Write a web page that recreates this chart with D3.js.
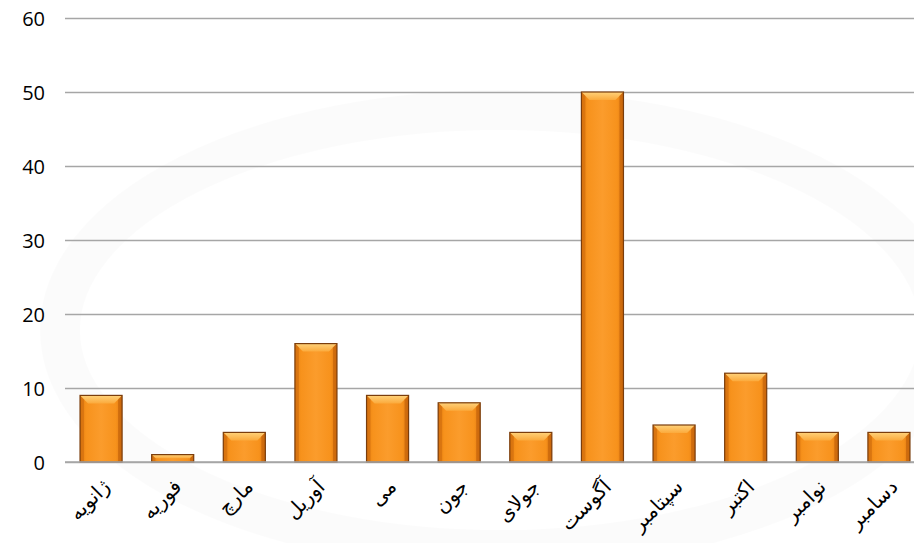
<!DOCTYPE html>
<html lang="fa">
<head>
  <meta charset="utf-8">
  <title>Monthly bars</title>
  <script src="https://d3js.org/d3.v7.min.js"></script>
  <style>
    body { margin: 0; background: #fff; }
    .ytick text { font-family: "Open Sans", sans-serif; font-size: 20px; fill: #000; }
    .xlab { font-family: "DejaVu Sans", sans-serif; font-size: 20px; fill: #000; }
  </style>
</head>
<body>
<div id="chart"></div>
<script>
  // months (category labels) and values
  const months = ["ژانویه", "فوریه", "مارچ", "آوریل", "می", "جون", "جولای", "آگوست", "سپتامبر", "اکتبر", "نوامبر", "دسامبر"];
  const counts = [9, 1, 4, 16, 9, 8, 4, 50, 5, 12, 4, 4];
  const yTicks = [0, 10, 20, 30, 40, 50, 60];

  const width = 914, height = 543;
  const margin = {top: 18, right: 0, bottom: 81, left: 65};

  const svg = d3.select("#chart").append("svg")
    .attr("width", width)
    .attr("height", height);

  const defs = svg.append("defs");
  // horizontal shading for the bar body
  const body = defs.append("linearGradient").attr("id", "barBody")
    .attr("x1", 0).attr("x2", 1).attr("y1", 0).attr("y2", 0);
  body.append("stop").attr("offset", "0%").attr("stop-color", "#e8800f");
  body.append("stop").attr("offset", "15%").attr("stop-color", "#f7921c");
  body.append("stop").attr("offset", "50%").attr("stop-color", "#fb9c2c");
  body.append("stop").attr("offset", "85%").attr("stop-color", "#f7921c");
  body.append("stop").attr("offset", "100%").attr("stop-color", "#e07812");

  const bevel = defs.append("linearGradient").attr("id", "barTop")
    .attr("x1", 0).attr("x2", 0).attr("y1", 0).attr("y2", 1);
  bevel.append("stop").attr("offset", "0%").attr("stop-color", "#ffd27a");
  bevel.append("stop").attr("offset", "100%").attr("stop-color", "#fbaa3c");

  // very faint watermark ring in the background
  svg.append("ellipse")
    .attr("cx", 500).attr("cy", 330).attr("rx", 440).attr("ry", 220)
    .attr("fill", "none").attr("stroke", "#000").attr("stroke-width", 40)
    .attr("opacity", 0.015);

  const x = d3.scaleBand()
    .domain(months)
    .range([margin.left, 925])
    .paddingInner(0.413)
    .paddingOuter(0.21);

  const y = d3.scaleLinear()
    .domain([0, 60])
    .range([height - margin.bottom, margin.top]);

  // grid lines with y labels
  const yAxis = svg.append("g")
    .attr("class", "ytick")
    .attr("transform", `translate(${margin.left},0)`)
    .call(d3.axisLeft(y).tickValues(yTicks).tickSize(-(width - margin.left - margin.right)).tickPadding(20));
  yAxis.select(".domain").remove();
  yAxis.selectAll("line").attr("stroke", "#a6a6a6").attr("stroke-width", 1.5);
  yAxis.selectAll("text").attr("dy", "0.35em");

  // bars
  const bars = svg.append("g").selectAll("g")
    .data(counts)
    .join("g")
    .attr("transform", (d, i) => `translate(${x(months[i])},${y(d)})`);

  const bw = x.bandwidth();
  bars.append("rect")
    .attr("width", bw)
    .attr("height", d => y(0) - y(d))
    .attr("fill", "url(#barBody)");

  // top bevel
  bars.append("path")
    .attr("d", d => {
      const h = y(0) - y(d);
      const b = Math.min(8, h / 2);
      return `M0,0 L${bw},0 L${bw - b},${b} L${b},${b} Z`;
    })
    .attr("fill", "url(#barTop)");

  // side bevels darker
  bars.append("path")
    .attr("d", d => {
      const h = y(0) - y(d);
      const b = Math.min(4, h / 2);
      return `M0,0 L${b},${b} L${b},${h} L0,${h} Z`;
    })
    .attr("fill", "#c9660c").attr("opacity", 0.55);
  bars.append("path")
    .attr("d", d => {
      const h = y(0) - y(d);
      const b = Math.min(4, h / 2);
      return `M${bw},0 L${bw - b},${b} L${bw - b},${h} L${bw},${h} Z`;
    })
    .attr("fill", "#b85a08").attr("opacity", 0.55);

  // dark outline
  bars.append("rect")
    .attr("width", bw)
    .attr("height", d => y(0) - y(d))
    .attr("fill", "none")
    .attr("stroke", "#7a3d0c")
    .attr("stroke-width", 1.2);

  // baseline
  svg.append("line")
    .attr("x1", margin.left).attr("x2", width - margin.right)
    .attr("y1", y(0)).attr("y2", y(0))
    .attr("stroke", "#a6a6a6").attr("stroke-width", 1.5);

  // rotated month labels
  svg.append("g").selectAll("text")
    .data(months)
    .join("text")
    .attr("class", "xlab")
    .attr("text-anchor", "end")
    .attr("transform", d => `translate(${x(d) + bw / 2 + 10},${y(0) + 26}) rotate(-45)`)
    .text(d => d);
</script>
</body>
</html>
